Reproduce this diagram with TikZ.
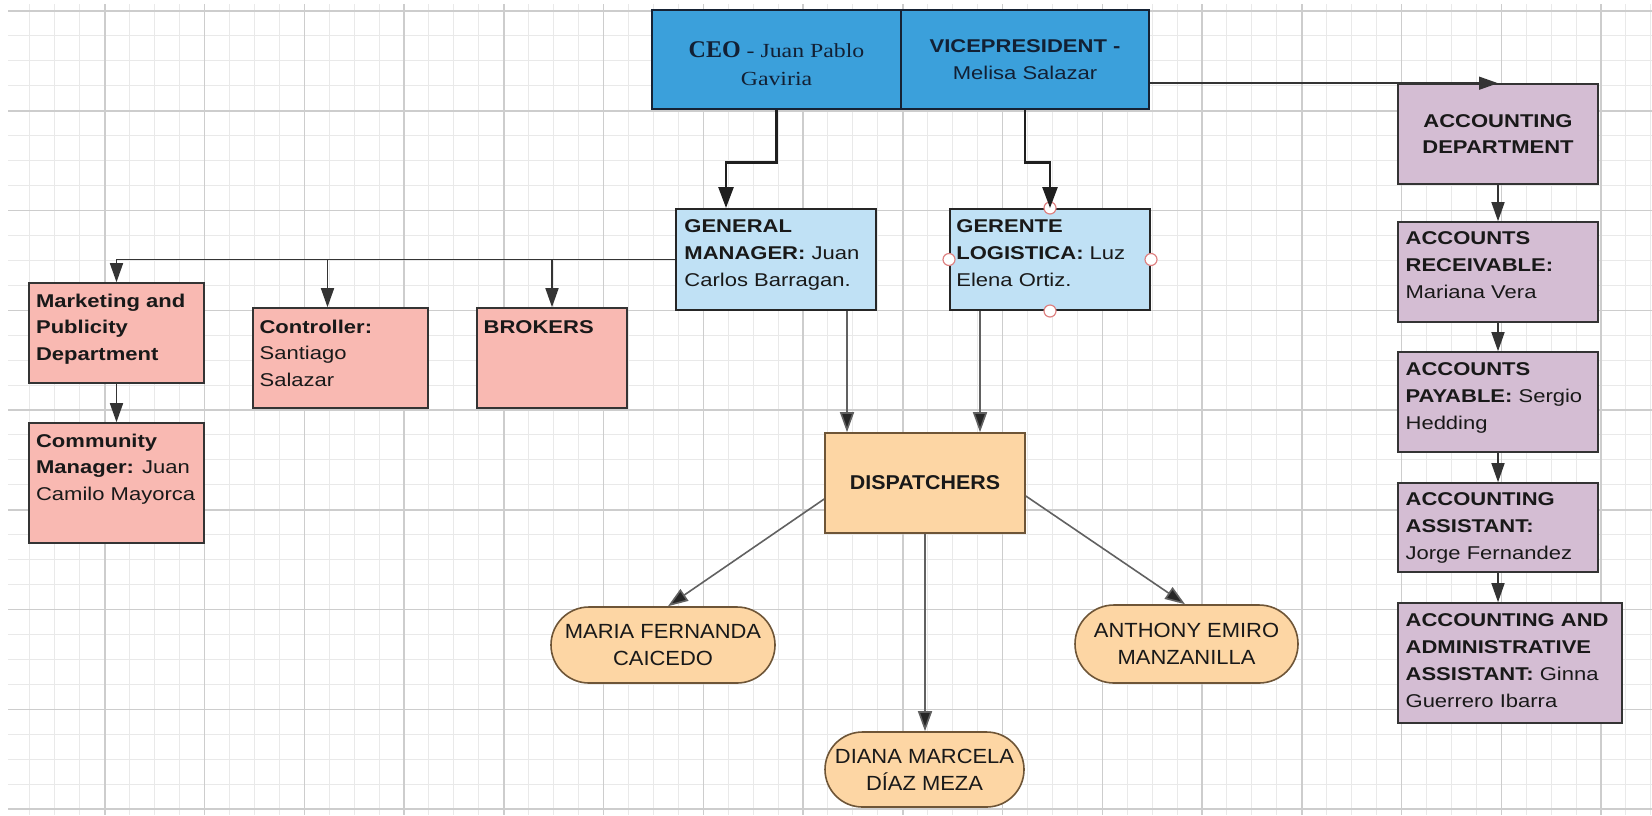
\documentclass[tikz,border=0pt]{standalone}
\usepackage{fontspec}
\setmainfont{Liberation Sans}[FakeStretch=1.19]
\newfontfamily\narrowfont{Liberation Sans}[FakeStretch=1.07]
\newfontfamily\ceofont{Liberation Serif}[FakeStretch=1.19]
\newfontfamily\ceoboldfont{Liberation Serif}
\usetikzlibrary{arrows.meta,shapes.misc}
\definecolor{ceoblue}{RGB}{59,160,219}
\definecolor{ceoedge}{RGB}{22,34,52}
\definecolor{ceotext}{RGB}{18,32,52}
\definecolor{ltblue}{RGB}{192,225,245}
\definecolor{pinkc}{RGB}{249,185,178}
\definecolor{purpc}{RGB}{212,189,211}
\definecolor{orangec}{RGB}{253,214,164}
\definecolor{orangeedge}{RGB}{110,85,55}
\definecolor{gridmin}{RGB}{233,233,233}
\definecolor{gridmaj}{RGB}{205,205,205}
\definecolor{edgec}{RGB}{52,52,52}
\definecolor{txtc}{RGB}{25,25,25}
\definecolor{handlec}{RGB}{222,130,130}
\tikzset{
  box/.style={draw=edgec, line width=0.8pt, inner sep=0pt},
  pbox/.style={box, fill=pinkc},
  abox/.style={box, fill=purpc},
  lbox/.style={box, fill=ltblue, line width=1pt, draw=black!85},
  tbox/.style={draw=ceoedge, line width=1.3pt, fill=ceoblue, inner sep=0pt,
    minimum height=49.5pt, align=center, text=ceotext},
  obox/.style={draw=orangeedge, line width=0.8pt, fill=orangec, inner sep=0pt, text=txtc},
  pill/.style={rounded rectangle, draw=orangeedge, line width=0.8pt, fill=orangec,
    inner sep=0pt, align=center, text=txtc,
    font=\narrowfont\fontsize{10.25pt}{13.5pt}\selectfont},
  ptxt/.style={anchor=north west, inner sep=0pt, align=left, text=txtc,
    font=\fontsize{9.25pt}{13.4pt}\selectfont},
  conn/.style={draw=edgec, line width=0.8pt, -{Triangle[length=9.5pt,width=6.5pt]}},
  grayconn/.style={draw=black!62, line width=0.8pt, -{Triangle[length=10pt,width=7pt,fill=black!85]}},
  boldconn/.style={draw=black!88, line width=1.3pt, -{Triangle[length=10.5pt,width=7.5pt]}},
  handle/.style={circle, draw=handlec, line width=0.6pt, fill=white, minimum size=6pt, inner sep=0pt},
  gminor/.style={draw=gridmin, line width=0.5pt},
  gmajor/.style={draw=gridmaj, line width=0.75pt}
}
\newcommand{\fl}{\rule{0pt}{12.25pt}}
\begin{document}
\begin{tikzpicture}[x=0.5pt,y=-0.5pt]
\fill[white] (0,0) rectangle (1652,815);
\useasboundingbox (0,0) rectangle (1652,815);
% grid
\begin{scope}
\clip (8,4) rectangle (1652,815);
\foreach \k in {0,...,66} \draw[gminor] ({5+24.9375*\k},0) -- ({5+24.9375*\k},815);
\foreach \k in {0,...,32} \draw[gminor] (0,{11+24.9375*\k}) -- (1652,{11+24.9375*\k});
\foreach \k in {0,...,16} \draw[gmajor] ({5+99.75*\k},0) -- ({5+99.75*\k},815);
\foreach \k in {0,...,8} \draw[gmajor] (0,{11+99.75*\k}) -- (1652,{11+99.75*\k});
\end{scope}

% top boxes
\node[tbox, minimum width=124.5pt, font=\ceofont\fontsize{10pt}{14pt}\selectfont] (ceo) at (776.5,59.5)
  {\rule{0pt}{12.5pt}{\ceoboldfont\bfseries\fontsize{12pt}{14pt}\selectfont CEO} - Juan Pablo\\Gaviria};
\node[tbox, minimum width=124pt, font=\fontsize{9.25pt}{13.5pt}\selectfont] (vp) at (1025,59.5)
  {\textbf{VICEPRESIDENT -}\\Melisa Salazar};

% managers
\node[lbox, minimum width=100pt, minimum height=50.5pt] (gm) at (776,259.5) {};
\node[ptxt] (gmt) at ([xshift=4.5pt]gm.north west)
  {\fl\textbf{GENERAL}\\\textbf{MANAGER:} Juan\\Carlos Barragan.};
\node[lbox, minimum width=100pt, minimum height=50.5pt] (gl) at (1050,259.5) {};
\node[ptxt] (glt) at ([xshift=3.5pt]gl.north west)
  {\fl\textbf{GERENTE}\\\textbf{LOGISTICA:} Luz\\Elena Ortiz.};
\node[handle] (gh1) at (gl.north) {};
\node[handle] (gh2) at (gl.west) {};
\node[handle] (gh3) at (gl.east) {};
\node[handle] (gh4) at (gl.south) {};

% pink boxes
\node[pbox, minimum width=87.5pt, minimum height=50pt] (mkt) at (116.5,333) {};
\node[ptxt] (mktt) at ([xshift=3.75pt]mkt.north west)
  {\fl\textbf{Marketing and}\\\textbf{Publicity}\\\textbf{Department}};
\node[pbox, minimum width=87.5pt, minimum height=60pt] (com) at (116.5,483) {};
\node[ptxt] (comt) at ([xshift=3.75pt]com.north west)
  {\fl\textbf{Community}\\\textbf{Manager:} Juan\\Camilo Mayorca};
\node[pbox, minimum width=87.5pt, minimum height=50pt] (ctl) at (340.5,358) {};
\node[ptxt] (ctlt) at ([xshift=3.5pt,yshift=-0.5pt]ctl.north west)
  {\fl\textbf{Controller:}\\Santiago\\Salazar};
\node[pbox, minimum width=75pt, minimum height=50pt] (brk) at (552,358) {};
\node[ptxt] (brkt) at ([xshift=3.5pt,yshift=-0.5pt]brk.north west)
  {\fl\textbf{BROKERS}};

% dispatchers
\node[obox, minimum width=100pt, minimum height=50pt,
  font=\narrowfont\fontsize{10pt}{13pt}\selectfont] (disp) at (925,483) {\textbf{DISPATCHERS}};
\node[pill, minimum width=112pt, minimum height=38pt] (mar) at (663,645) {MARIA FERNANDA\\CAICEDO};
\node[pill, minimum width=111.5pt, minimum height=39pt] (ant) at (1186.5,644) {ANTHONY EMIRO\\MANZANILLA};
\node[pill, minimum width=99.5pt, minimum height=37.5pt] (dia) at (924.5,769.5) {DIANA MARCELA\\DÍAZ MEZA};

% accounting
\node[abox, minimum width=100pt, minimum height=50pt, align=center, text=txtc,
  font=\fontsize{9.25pt}{13pt}\selectfont] (ad) at (1498,134) {\textbf{ACCOUNTING}\\\textbf{DEPARTMENT}};
\node[abox, minimum width=100pt, minimum height=50pt] (ar) at (1498,272) {};
\node[ptxt] (art) at ([xshift=4pt,yshift=0.75pt]ar.north west)
  {\fl\textbf{ACCOUNTS}\\\textbf{RECEIVABLE:}\\Mariana Vera};
\node[abox, minimum width=100pt, minimum height=50pt] (ap) at (1498,402) {};
\node[ptxt] (apt) at ([xshift=4pt,yshift=0.25pt]ap.north west)
  {\fl\textbf{ACCOUNTS}\\\textbf{PAYABLE:} Sergio\\Hedding};
\node[abox, minimum width=100pt, minimum height=44.5pt] (aa) at (1498,527.5) {};
\node[ptxt] (aat) at ([xshift=4pt,yshift=0.75pt]aa.north west)
  {\fl\textbf{ACCOUNTING}\\\textbf{ASSISTANT:}\\Jorge Fernandez};
\node[abox, minimum width=112pt, minimum height=60pt] (aaa) at (1510,663) {};
\node[ptxt] (aaat) at ([xshift=4pt,yshift=0.25pt]aaa.north west)
  {\fl\textbf{ACCOUNTING AND}\\\textbf{ADMINISTRATIVE}\\\textbf{ASSISTANT:} Ginna\\Guerrero Ibarra};

% connectors
\draw[boldconn] (ceo.south) -- ++(0,52) -| ([xshift=-25pt]gm.north);
\draw[boldconn] (vp.south) -- ++(0,52) -| (gl.north);

\draw[conn] (gm.west) -| (mkt.north);
\coordinate (ctlin) at ([xshift=-6.5pt]ctl.north);
\draw[conn] (ctlin |- gm.west) -- (ctlin);
\draw[conn] (brk.north |- gm.west) -- (brk.north);
\draw[conn] (mkt.south) -- (com.north);

\coordinate (gmout) at ([xshift=35.5pt]gm.south);
\coordinate (glout) at ([xshift=-35pt]gl.south);
\draw[grayconn] (gmout) -- (gmout |- disp.north);
\draw[grayconn] (glout) -- (glout |- disp.north);
\draw[grayconn] ([yshift=-8pt]disp.west) -- ([xshift=2.5pt]mar.north);
\draw[grayconn] ([yshift=-6.5pt]disp.east) -- ([xshift=-0.75pt]ant.north);
\draw[grayconn] (disp.south) -- (disp.south |- dia.north);

\draw[conn, line width=0.75pt] (vp.east |- ad.north) -- (ad.north);
\draw[conn] (ad.south) -- (ar.north);
\draw[conn] (ar.south) -- (ap.north);
\draw[conn] (ap.south) -- (aa.north);
\draw[conn] (aa.south) -- (aa.south |- aaa.north);
\end{tikzpicture}
\end{document}
